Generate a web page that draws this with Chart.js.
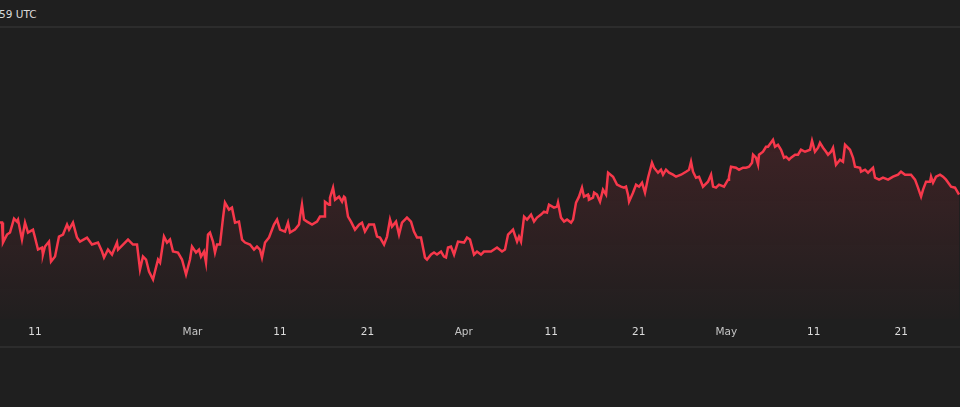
<!DOCTYPE html>
<html>
<head>
<meta charset="utf-8">
<script src="https://cdn.jsdelivr.net/npm/chart.js@4/dist/chart.umd.min.js"></script>
<style>
  html, body { margin: 0; padding: 0; background: #1f1f1f; overflow: hidden; }
  body { width: 960px; height: 407px; font-family: "DejaVu Sans", sans-serif; }
  #header {
    height: 26px; border-bottom: 2px solid #2c2c2c; position: relative;
  }
  #header span {
    position: absolute; left: -1px; top: 8px; font-size: 10.5px; color: #dadada;
  }
  #wrap { position: relative; width: 960px; height: 318px; border-bottom: 2px solid #2c2c2c; }
</style>
</head>
<body>
<div id="header"><span>59 UTC</span></div>
<div id="wrap"><canvas id="chart"></canvas></div>
<script>
// x = days since 1 Feb, y = price
const days = [
  6.00, 6.23, 6.34, 6.80, 7.14, 7.60, 7.94, 8.06, 8.51, 8.86, 9.20, 9.77, 10.00, 10.34, 10.80, 10.91,
  11.14, 11.60, 11.83, 12.29, 12.74, 13.20, 13.66, 13.89, 14.34, 14.80, 15.14, 15.94, 16.51, 17.20,
  17.66, 17.89, 18.34, 18.80, 19.37, 19.49, 20.06, 20.63, 21.20, 21.66, 22.00, 22.34, 22.69, 23.03,
  23.49, 23.71, 24.06, 24.29, 24.74, 25.09, 25.43, 25.77, 26.34, 26.80, 27.26, 27.71,
  27.94, 28.40, 28.74, 28.97, 29.31, 29.54, 29.77, 30.00, 30.34, 30.57,
  30.80, 31.14, 31.49, 31.71, 32.17, 32.51, 32.86, 33.31, 33.66, 34.00,
  34.57, 35.03, 35.37, 35.71, 35.94, 36.29, 36.74, 37.31, 37.66, 38.00,
  38.57, 38.91, 39.14, 39.71, 40.17, 40.29, 40.51, 40.74, 41.09, 41.66,
  42.23, 42.57, 43.03, 43.14, 43.60, 43.71, 44.06, 44.29, 44.74, 45.09,
  45.31, 45.43, 45.77, 46.11, 46.57, 47.03, 47.37, 47.71, 48.17, 48.74,
  49.09, 49.43,
  49.89, 50.23, 50.57, 50.80, 51.26, 51.60, 51.94, 52.51, 52.97, 53.31,
  53.66, 54.11, 54.57, 54.80, 55.26, 55.60, 55.94, 56.40, 56.74, 56.97,
  57.20, 57.54, 57.89, 58.34, 59.03, 59.37, 59.71, 60.17, 60.51, 60.97,
  61.31, 62.11, 62.46, 62.80, 63.37, 63.71, 64.06, 64.40, 64.63, 65.09,
  65.31, 65.54, 65.89, 66.23, 66.69, 67.03, 67.37, 67.83, 68.17, 68.51,
  68.74, 69.31, 69.66, 69.77, 70.11, 70.46, 70.80, 71.26, 71.49,
  71.83, 72.17, 72.51, 72.74, 73.20, 73.31, 73.77, 73.89, 74.23, 74.57,
  74.91, 75.26, 75.49, 76.06, 76.51, 76.97, 77.31, 77.54, 77.77, 77.89,
  78.34, 78.69, 79.03, 79.37, 79.71, 80.06, 80.51, 80.74, 81.20, 81.54,
  81.77, 82.11, 82.46, 82.91, 83.26, 83.83, 84.40, 84.74, 84.97, 85.20,
  85.54, 85.89, 86.34, 86.91, 87.26, 87.49, 87.83, 88.17, 88.74, 89.20,
  89.31, 89.54, 90.11, 90.46, 90.91, 91.26, 91.60, 91.94, 92.06, 92.40,
  92.63, 92.74, 93.20, 93.54,
  93.77, 94.34, 94.57, 94.91, 95.26, 95.60, 95.83, 96.17, 96.40, 96.86,
  97.20, 97.54, 98.00, 98.57, 98.80, 99.14, 99.49, 99.71, 100.06, 100.40,
  100.63, 100.97, 101.20, 101.54, 102.00, 102.34, 102.57, 103.14, 103.49, 103.71,
  104.29, 104.40, 104.86, 105.20, 105.77, 106.00, 106.46, 106.91, 107.49, 108.06,
  108.63, 108.97, 109.43, 110.11, 110.57, 110.91, 111.26, 111.49, 111.83, 112.29,
  112.40, 112.63, 112.97, 113.43, 113.77, 114.11, 114.69, 115.14, 115.60
];

const prices = [
  177, 177, 157, 165, 167, 181, 178, 180, 160, 177, 167, 170, 162, 150, 152, 145,
  153, 158, 138, 143, 163, 165, 175, 170, 177, 162, 158, 162, 155, 157,
  148, 142, 150, 145, 157, 150, 155, 160, 155, 155, 130, 143, 140, 128,
  120, 128, 140, 137, 163, 157, 160, 148, 147, 140, 125, 140,
  153, 147, 150, 143, 148, 137, 165, 167, 158, 147,
  155, 155, 182, 197, 190, 192, 177, 178, 160, 157,
  155, 150, 153, 150, 142, 157, 162, 175, 180, 170,
  168, 177, 167, 170, 175, 183, 195, 180, 178, 175,
  178, 183, 183, 198, 195, 202, 212, 200, 203, 198,
  203, 202, 183, 178, 170, 175, 177, 168, 175, 175,
  163, 162,
  155, 163, 180, 173, 178, 165, 177, 182, 178, 168,
  162, 162, 142, 140, 145, 147, 145, 148, 143, 142,
  152, 153, 145, 158, 157, 162, 160, 145, 148, 145,
  148, 148, 150, 152, 148, 150, 165, 168, 170, 158,
  163, 158, 183, 180, 185, 178, 182, 185, 188, 187,
  195, 192, 193, 197, 182, 178, 180, 177, 180,
  197, 203, 212, 203, 205, 200, 202, 207, 205, 198,
  210, 205, 227, 223, 215, 213, 212, 213, 205, 198,
  207, 215, 213, 217, 207, 222, 237, 232, 227, 230,
  225, 230, 227, 225, 223, 225, 228, 230, 238, 228,
  222, 223, 213, 218, 225, 213, 212, 215, 213, 220,
  223, 233, 232, 230, 232, 232, 233, 237, 245, 242,
  235, 245, 248, 253,
  253, 260, 253, 255, 250, 242, 243, 240, 242, 245,
  245, 250, 248, 250, 259, 248, 252, 257, 252, 248,
  245, 248, 252, 235, 240, 238, 255, 250, 242, 233,
  232, 228, 230, 227, 232, 222, 220, 222, 220, 223,
  225, 228, 225, 225, 220, 212, 203, 210, 218, 218,
  223, 217, 223, 225, 223, 220, 213, 212, 205
];

// x-axis ticks (days since 1 Feb) and their labels
const tickDays = [10, 28, 38, 48, 59, 69, 79, 89, 99, 109];
const tickLabels = ["11", "Mar", "11", "21", "Apr", "11", "21", "May", "11", "21"];
const monthTicks = ["Mar", "Apr", "May"];

const lineColor = "#f7384b";

function fillGradient(context) {
  const area = context.chart.chartArea;
  if (!area) return "rgba(247,56,75,0.1)";
  const g = context.chart.ctx.createLinearGradient(0, area.top, 0, area.bottom);
  g.addColorStop(0, "rgba(247,56,75,0.22)");
  g.addColorStop(1, "rgba(247,56,75,0.01)");
  return g;
}

new Chart(document.getElementById("chart"), {
  type: "line",
  data: {
    datasets: [{
      data: days.map((d, i) => ({ x: d, y: prices[i] })),
      borderColor: lineColor,
      borderWidth: 2.5,
      backgroundColor: fillGradient,
      fill: "start",
      pointRadius: 0,
      tension: 0
    }]
  },
  options: {
    responsive: true,
    maintainAspectRatio: false,
    animation: false,
    layout: { padding: 0 },
    plugins: { legend: { display: false }, tooltip: { enabled: false } },
    scales: {
      x: {
        type: "linear",
        min: 6,
        max: 115.71,
        grid: { display: false, drawTicks: false },
        border: { display: false },
        afterBuildTicks: (scale) => {
          scale.ticks = tickDays.map(v => ({ value: v }));
        },
        ticks: {
          autoSkip: false,
          maxRotation: 0,
          padding: 7,
          font: { family: "DejaVu Sans", size: 10.5 },
          color: (ctx) => monthTicks.includes(tickLabels[ctx.index]) ? "#c4c4c4" : "#dcdcdc",
          callback: (value, index) => tickLabels[index]
        }
      },
      y: {
        display: false,
        min: 80,
        max: 372
      }
    }
  }
});
</script>
</body>
</html>
